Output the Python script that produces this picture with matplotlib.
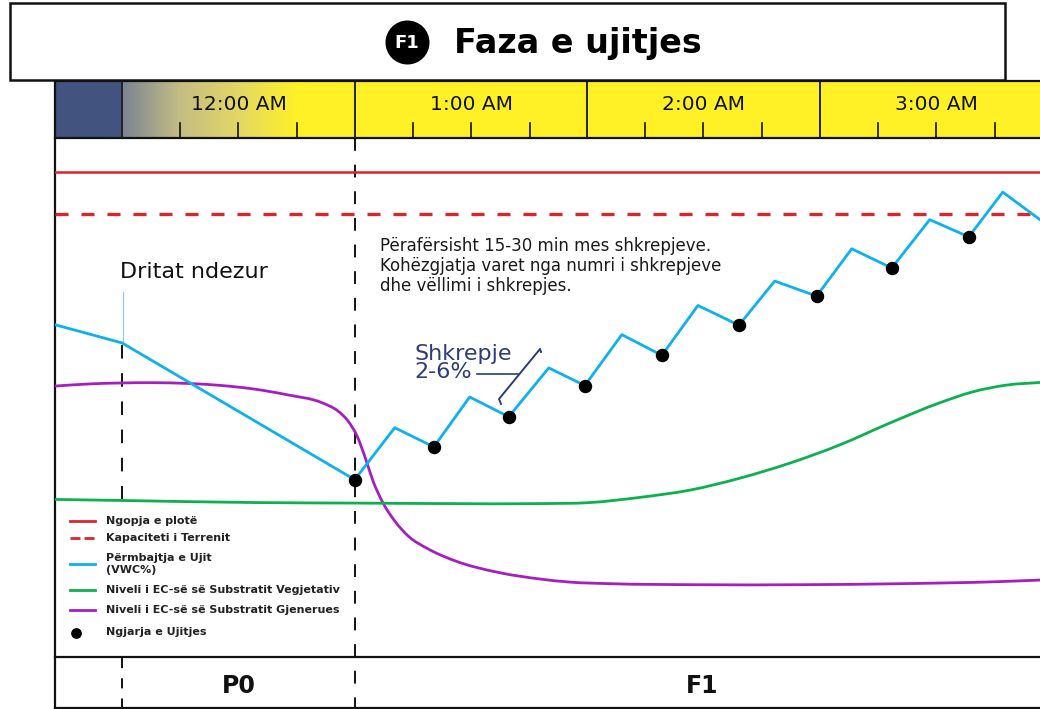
import numpy as np
import matplotlib
matplotlib.use('Agg')
import matplotlib.pyplot as plt
from matplotlib.colors import LinearSegmentedColormap
from matplotlib.patches import Rectangle, Circle, PathPatch
from matplotlib.path import Path

# values: x in hours after 12:00 AM, y in % of plot height
vwc_x = [-0.288, 0, 1, 1.172, 1.34, 1.494, 1.662, 1.834, 1.989, 2.148, 2.32, 2.475, 2.651, 2.805, 2.985, 3.136, 3.308, 3.471, 3.639, 3.785, 3.945]
vwc_y = [63.9, 60.4, 34.1, 44.1, 40.4, 50.0, 46.2, 55.6, 52.2, 62.0, 58.0, 67.6, 63.8, 72.3, 69.4, 78.5, 74.8, 84.1, 80.8, 89.4, 84.1]

veg_x = [-0.288, 0, 0.572, 1, 1.41, 1.796, 2.011, 2.226, 2.441, 2.656, 2.871, 3.085, 3.3, 3.515, 3.657, 3.803, 3.945]
veg_y = [30.3, 30.1, 29.7, 29.6, 29.5, 29.5, 29.7, 30.7, 32.1, 34.4, 37.3, 40.8, 45.0, 48.9, 51.0, 52.3, 52.8]

gen_x = [-0.288, -0.146, 0, 0.142, 0.284, 0.43, 0.572, 0.713, 0.859, 0.928, 0.971, 1.01, 1.044, 1.079, 1.122, 1.173, 1.229, 1.315, 1.431, 1.624, 1.796, 1.925, 2.097, 2.484, 2.914, 3.343, 3.773, 3.945]
gen_y = [52.1, 52.5, 52.7, 52.75, 52.6, 52.2, 51.5, 50.4, 48.9, 47.3, 45.4, 42.5, 38.5, 33.8, 29.6, 26.1, 23.3, 20.8, 18.5, 16.2, 15.0, 14.4, 14.1, 13.9, 13.9, 14.1, 14.5, 14.8]

event_x = [1, 1.34, 1.662, 1.989, 2.32, 2.651, 2.985, 3.308, 3.639]
event_y = [34.1, 40.4, 46.2, 52.2, 58.0, 63.8, 69.4, 74.8, 80.8]

saturation = 93.3
field_capacity = 85.1

hour_labels = ['12:00 AM', '1:00 AM', '2:00 AM', '3:00 AM']
hour_px = [122, 355, 587, 820]
legend_labels = ['Ngopja e plotë', 'Kapaciteti i Terrenit', 'Përmbajtja e Ujit\n(VWC%)',
                 'Niveli i EC-së së Substratit Vegjetativ', 'Niveli i EC-së së Substratit Gjenerues',
                 'Ngjarja e Ujitjes']

RED = '#d9252f'
BLUE = '#0eb0ee'
GREEN = '#0bb14f'
PURPLE = '#a51fc0'
NAVY = '#2c3d78'
FONT = 'DejaVu Sans'

W, H = 1040, 709
fig = plt.figure(figsize=(W / 100, H / 100), dpi=100)


def smooth_path(xs, ys):
    # bezier curve through the read points, so the EC curves are not angular
    x = np.array(xs)
    y = np.array(ys)
    slope = np.gradient(y, x)
    verts = [(x[0], y[0])]
    codes = [Path.MOVETO]
    for i in range(len(x) - 1):
        h = x[i + 1] - x[i]
        verts += [(x[i] + h / 3, y[i] + slope[i] * h / 3),
                  (x[i + 1] - h / 3, y[i + 1] - slope[i + 1] * h / 3),
                  (x[i + 1], y[i + 1])]
        codes += [Path.CURVE4] * 3
    return Path(verts, codes)


# overlay in pixel coordinates for the frame and the texts
deco = fig.add_axes([0, 0, 1, 1], zorder=1)
deco.set_xlim(0, W)
deco.set_ylim(H, 0)
deco.axis('off')

# main plot
ax = fig.add_axes([55 / W, (H - 657) / H, (W - 55) / W, 520 / H], zorder=2)
ax.patch.set_alpha(0)
ax.set_xlim(-0.288, 3.945)
ax.set_ylim(0, 100)
ax.axis('off')
ax.axhline(saturation, color=RED, lw=1.8)
ax.axhline(field_capacity, color=RED, lw=2.4, dashes=(3.9, 3.9))
ax.add_patch(PathPatch(smooth_path(gen_x, gen_y), fc='none', ec=PURPLE, lw=2))
ax.add_patch(PathPatch(smooth_path(veg_x, veg_y), fc='none', ec=GREEN, lw=2))
ax.plot(vwc_x, vwc_y, color=BLUE, lw=2)
ax.scatter(event_x, event_y, s=75, color='black', zorder=5, clip_on=False)

# time band
deco.add_patch(Rectangle((55, 81), 67, 56, fc='#42537f', ec='none'))
deco.add_patch(Rectangle((355, 81), W - 355, 56, fc='#fff126', ec='none'))
grad = LinearSegmentedColormap.from_list('g', ['#7b8492', '#c4bd84', '#e3d765', '#fff126', '#fff126'])
deco.imshow(np.linspace(0, 1, 256).reshape(1, -1), cmap=grad, extent=(122, 355, 137, 81), aspect='auto')
deco.set_xlim(0, W)
deco.set_ylim(H, 0)
deco.plot([55, W], [137.5, 137.5], color='#111111', lw=1.6)
deco.plot([55, W], [80.5, 80.5], color='#111111', lw=1.6)
for px, lab in zip(hour_px, hour_labels):
    deco.plot([px, px], [81, 137], color='#222222', lw=1.4)
    deco.text(px + 116.5, 104, lab, ha='center', va='center', fontsize=14.5, family=FONT, color='#111111')
    for k in (1, 2, 3):
        tx = px + k * 58.2
        if tx < W:
            deco.plot([tx, tx], [123, 137], color='#111111', lw=1.2)

# frame
deco.plot([55, 55], [80, 709], color='#111111', lw=1.6)
deco.plot([55, W], [657, 657], color='#111111', lw=1.6)
deco.plot([55, W], [708, 708], color='#111111', lw=1.6)
deco.plot([122.5, 122.5], [292, 343], color='#9fc6dc', lw=0.9)
deco.plot([122, 122], [345, 500], color='#111111', lw=1.4, dashes=(7, 7.5))
deco.plot([122, 122], [658, 709], color='#111111', lw=1.4, dashes=(5.2, 5.2))
deco.plot([355, 355], [138, 709], color='#111111', lw=1.4, dashes=(6.6, 7.1))

# title box
deco.add_patch(Rectangle((9.5, 3), 995.5, 77, fc='white', ec='#111111', lw=1.8, zorder=3))
deco.add_patch(Circle((407.5, 42.5), 22, fc='black', ec='none', zorder=4))
deco.text(407, 43, 'F1', color='white', ha='center', va='center', fontsize=13, fontweight='bold', family=FONT, zorder=5)
deco.text(454, 43, 'Faza e ujitjes', color='black', ha='left', va='center', fontsize=24, fontweight='bold', family=FONT, zorder=5)

# annotations
deco.text(120, 272, 'Dritat ndezur', ha='left', va='center', fontsize=16, family=FONT, color='#111111')
deco.text(380, 266, 'Përafërsisht 15-30 min mes shkrepjeve.\nKohëzgjatja varet nga numri i shkrepjeve\ndhe vëllimi i shkrepjes.',
          ha='left', va='center', fontsize=12, family=FONT, color='#1a1a1a', linespacing=1.15)
deco.text(414, 363, 'Shkrepje\n2-6%', ha='left', va='center', fontsize=16, fontweight='medium', family=FONT, color=NAVY, linespacing=0.9)
deco.plot([477, 518], [373.5, 373.5], color=NAVY, lw=1.2)
deco.plot([501, 499, 540, 541], [404, 399, 349, 352], color=NAVY, lw=1.4)

deco.text(239, 686, 'P0', ha='center', va='center', fontsize=17, fontweight='bold', family=FONT, color='#111111')
deco.text(702, 686, 'F1', ha='center', va='center', fontsize=17, fontweight='bold', family=FONT, color='#111111')

# legend
legend_y = [521, 538, 564, 590, 610, 632]
legend_style = [dict(color=RED, lw=2), dict(color=RED, lw=2, dashes=(3.6, 1.45)), dict(color=BLUE, lw=2),
                dict(color=GREEN, lw=2), dict(color=PURPLE, lw=2)]
for y, st in zip(legend_y, legend_style):
    deco.plot([70, 95], [y, y], **st)
for y, lab in zip(legend_y, legend_labels):
    deco.text(106, y, lab, ha='left', va='center', fontsize=8, fontweight='bold',
              family=FONT, color='#222222', linespacing=1.3)
deco.scatter([75.5], [633], s=45, color='black')

fig.savefig('out.png', dpi=100)
